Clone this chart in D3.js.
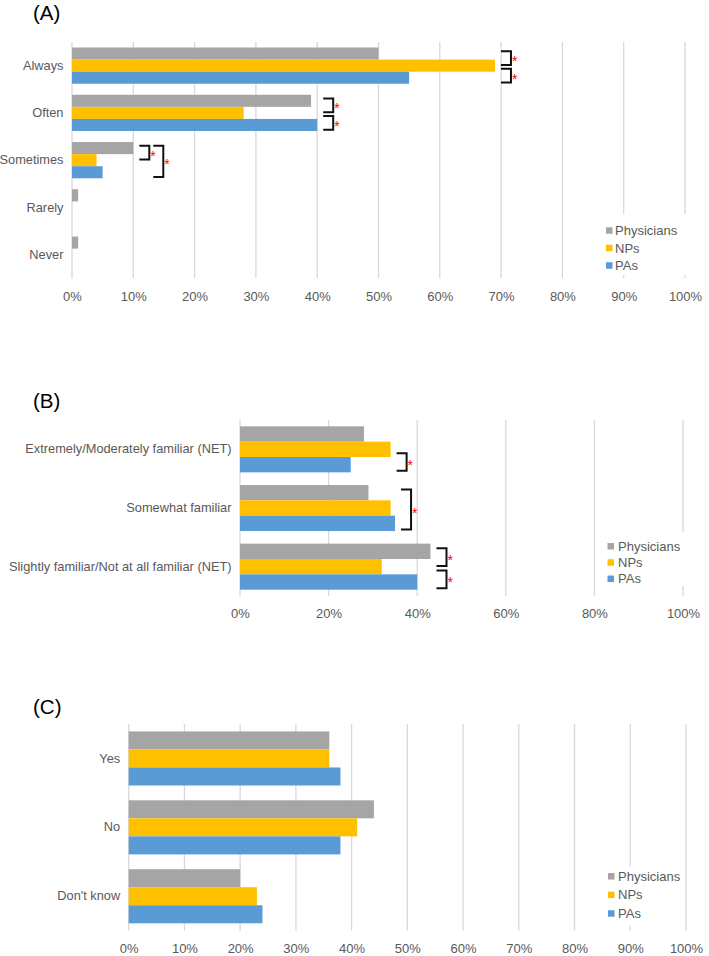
<!DOCTYPE html>
<html>
<head>
<meta charset="utf-8">
<script src="https://cdn.jsdelivr.net/npm/d3@7"></script>
<style>
  html, body { margin: 0; padding: 0; background: #fff; }
  svg { display: block; font-family: "Liberation Sans", Arial, sans-serif; }
</style>
</head>
<body>
<svg id="chart" width="709" height="956"></svg>
<script>
// ---------- DATA ----------
const seriesNames = ["Physicians", "NPs", "PAs"];

const catsA = ["Always", "Often", "Sometimes", "Rarely", "Never"];
const physiciansA = [50, 39, 10, 1, 1];
const npsA = [69, 28, 4, 0, 0];
const pasA = [55, 40, 5, 0, 0];
const ticksA = [0, 10, 20, 30, 40, 50, 60, 70, 80, 90, 100];
// significance brackets: category, first series index, second series index, nesting level
const sigA = [
  { cat: "Always", a: 0, b: 1, level: 0 },
  { cat: "Always", a: 1, b: 2, level: 0 },
  { cat: "Often", a: 0, b: 1, level: 0 },
  { cat: "Often", a: 1, b: 2, level: 0 },
  { cat: "Sometimes", a: 0, b: 1, level: 0 },
  { cat: "Sometimes", a: 0, b: 2, level: 1 }
];

const catsB = ["Extremely/Moderately familiar (NET)", "Somewhat familiar", "Slightly familiar/Not at all familiar (NET)"];
const physiciansB = [28, 29, 43];
const npsB = [34, 34, 32];
const pasB = [25, 35, 40];
const ticksB = [0, 20, 40, 60, 80, 100];
const sigB = [
  { cat: "Extremely/Moderately familiar (NET)", a: 1, b: 2, level: 0 },
  { cat: "Somewhat familiar", a: 0, b: 2, level: 0 },
  { cat: "Slightly familiar/Not at all familiar (NET)", a: 0, b: 1, level: 0 },
  { cat: "Slightly familiar/Not at all familiar (NET)", a: 1, b: 2, level: 0 }
];

const catsC = ["Yes", "No", "Don't know"];
const physiciansC = [36, 44, 20];
const npsC = [36, 41, 23];
const pasC = [38, 38, 24];
const ticksC = [0, 10, 20, 30, 40, 50, 60, 70, 80, 90, 100];
const sigC = [];

// ---------- STYLE / LAYOUT ----------
const colors = ["#A5A5A5", "#FFC000", "#5B9BD5"];
const textColor = "#595959";
const gridColor = "#D9D9D9";

const panels = [
  { label: "(A)", labelY: 19.5, cats: catsA, values: [physiciansA, npsA, pasA], ticks: ticksA, sig: sigA,
    x0: 72, x1: 685, y0: 42, y1: 278.3, pad: 0.233, bw: 10,
    legend: { box: [600, 214, 92, 61], sx: 606, tx: 615, ys: [230.5, 248, 265.5] } },
  { label: "(B)", labelY: 407.5, cats: catsB, values: [physiciansB, npsB, pasB], ticks: ticksB, sig: sigB,
    x0: 240, x1: 683, y0: 420, y1: 596, pad: 0.215, bw: 10,
    legend: { box: [600, 532, 92, 54], sx: 607.5, tx: 618, ys: [546.3, 562.5, 578.8] } },
  { label: "(C)", labelY: 714, cats: catsC, values: [physiciansC, npsC, pasC], ticks: ticksC, sig: sigC,
    x0: 128.7, x1: 686, y0: 724, y1: 930.7, pad: 0.215, bw: 10,
    legend: { box: [600, 866, 83, 60], sx: 608, tx: 618, ys: [876.3, 894.8, 913.5] } }
];

const svg = d3.select("#chart");

panels.forEach(p => {
  const g = svg.append("g");
  const x = d3.scaleLinear().domain([0, 100]).range([p.x0, p.x1]);
  const y = d3.scaleBand().domain(p.cats).range([p.y0, p.y1])
    .paddingInner(p.pad).paddingOuter(p.pad / 2);
  const ys = d3.scaleBand().domain(d3.range(seriesNames.length)).range([0, y.bandwidth()]);

  // panel label
  g.append("text").attr("x", 33).attr("y", p.labelY)
    .attr("font-size", 20.5).attr("fill", "#000").text(p.label);

  // gridlines
  g.append("g").selectAll("line").data(p.ticks).join("line")
    .attr("x1", d => x(d)).attr("x2", d => x(d))
    .attr("y1", p.y0).attr("y2", p.y1)
    .attr("stroke", gridColor).attr("stroke-width", 1.3);

  // x tick labels via axis
  const axis = d3.axisBottom(x).tickValues(p.ticks).tickFormat(d => d + "%").tickSize(0).tickPadding(0);
  const ax = g.append("g").attr("transform", `translate(0,${p.y1 + 13})`).call(axis);
  ax.select(".domain").remove();
  ax.selectAll("text").attr("font-size", 13).attr("fill", textColor)
    .attr("font-family", '"Liberation Sans", Arial, sans-serif');

  // category labels via axis
  const yAxis = d3.axisLeft(y).tickSize(0).tickPadding(8.5);
  const ay = g.append("g").attr("transform", `translate(${p.x0},0)`).call(yAxis);
  ay.select(".domain").remove();
  ay.selectAll("text").attr("font-size", 12.8).attr("fill", textColor)
    .attr("font-family", '"Liberation Sans", Arial, sans-serif');

  // bars
  p.values.forEach((vals, si) => {
    g.append("g").selectAll("rect").data(vals.map((v, i) => ({ v, c: p.cats[i] }))).join("rect")
      .attr("x", x(0))
      .attr("y", d => y(d.c) + ys(si))
      .attr("width", d => Math.max(0, x(d.v) - x(0)))
      .attr("height", ys.bandwidth())
      .attr("fill", colors[si]);
  });

  // significance brackets
  const bh = ys.bandwidth();
  p.sig.forEach(s => {
    const ci = p.cats.indexOf(s.cat);
    const maxV = d3.max(p.values, arr => arr[ci]);
    const bx = x(maxV) + 6 + s.level * 14;
    const top = y(s.cat) + bh * (0.3 + 1.45 * s.a);
    const bot = y(s.cat) + bh * (1.45 * s.b);
    g.append("path")
      .attr("d", `M${bx},${top}H${bx + p.bw}V${bot}H${bx}`)
      .attr("fill", "none").attr("stroke", "#111").attr("stroke-width", 2);
    g.append("text").attr("x", bx + p.bw + 1).attr("y", (top + bot) / 2 + 8)
      .attr("font-size", 14).attr("fill", "#FF0000").text("*");
  });

  // legend
  const L = p.legend;
  g.append("rect").attr("x", L.box[0]).attr("y", L.box[1]).attr("width", L.box[2]).attr("height", L.box[3])
    .attr("fill", "#fff");
  seriesNames.forEach((name, si) => {
    g.append("rect").attr("x", L.sx).attr("y", L.ys[si] - 3.25).attr("width", 6.5).attr("height", 6.5)
      .attr("fill", colors[si]);
    g.append("text").attr("x", L.tx).attr("y", L.ys[si]).attr("dy", "0.35em")
      .attr("font-size", 13).attr("fill", textColor).text(name);
  });
});
</script>
</body>
</html>
